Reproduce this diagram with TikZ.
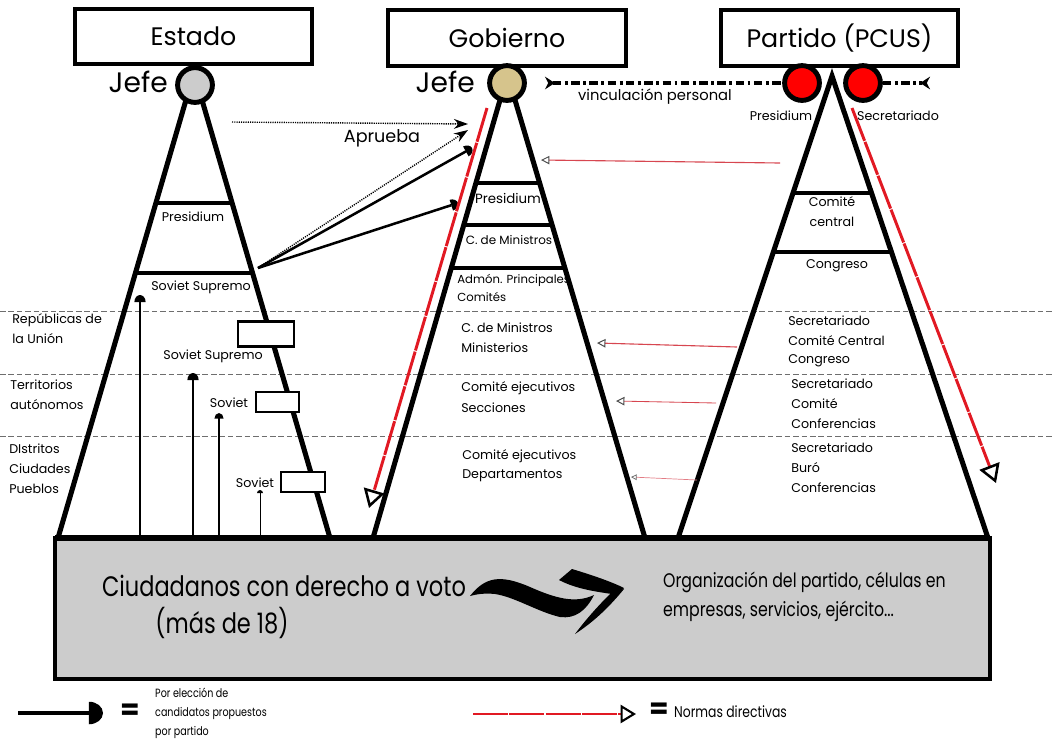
\documentclass[tikz,border=0pt]{standalone}
\usepackage{fontspec}
\setmainfont{Poppins}
\usetikzlibrary{arrows.meta}
\definecolor{basegray}{RGB}{204,204,204}
\definecolor{jefetan}{RGB}{214,196,140}
\definecolor{normared}{RGB}{225,25,35}
\definecolor{thinred}{RGB}{215,70,80}
\definecolor{bandgray}{RGB}{110,110,110}

% half disc tip for the votes
\pgfdeclarearrow{
  name = Dome,
  parameters = {\the\pgfarrowlength,\the\pgfarrowwidth},
  setup code = {
    \pgfarrowssettipend{\pgfarrowlength}
    \pgfarrowssetlineend{0.1pt}
    \pgfarrowssavethe\pgfarrowlength
    \pgfarrowssavethe\pgfarrowwidth
  },
  drawing code = {
    \pgfpathmoveto{\pgfqpoint{0pt}{-.5\pgfarrowwidth}}
    \pgfpatharc{-90}{90}{\pgfarrowlength and .5\pgfarrowwidth}
    \pgfpathclose
    \pgfusepathqfill
  },
  defaults = {length=4pt, width=8pt}
}

\tikzset{
  titlebox/.style={draw, line width=2.8pt, minimum width=5.93cm, minimum height=1.38cm, inner sep=0pt, font=\fontsize{18}{20}\selectfont},
  jefe/.style={circle, draw, line width=3.5pt, minimum size=0.87cm, inner sep=0pt},
  jefetxt/.style={font=\fontsize{20}{22}\selectfont, inner sep=0pt, anchor=east},
  side/.style={line width=3.6pt},
  level/.style={line width=3.4pt},
  lbl/.style={font=\fontsize{9}{11}\selectfont, inner sep=0pt},
  lbll/.style={lbl, anchor=west},
  band/.style={bandgray, line width=0.7pt, dash pattern=on 4pt off 2pt},
  sovbox/.style={draw, fill=white, line width=1.8pt, inner sep=0pt},
  aprueba/.style={line width=1pt, dash pattern=on 0.8pt off 0.8pt, -{Stealth[length=10pt, width=7pt]}},
  voto/.style={line width=1.8pt, -{Dome[length=5pt, width=8pt]}},
  norma/.style={normared, line width=2.1pt, dash pattern=on 25pt off 0.8pt, -{Triangle[open, length=13pt, width=15pt, line width=1.8pt, color=black]}},
  normafina/.style={thinred, line width=0.8pt, -{Triangle[open, length=6pt, width=6pt, line width=0.7pt, color=black!70]}},
  vin/.style={line width=2.2pt, dash pattern=on 6pt off 2.5pt on 2pt off 2.5pt},
  bigtxt/.style={font=\fontsize{20}{24}\selectfont, inner sep=0pt, xscale=0.8},
  midtxt/.style={font=\fontsize{14}{16}\selectfont, inner sep=0pt, anchor=west, xscale=0.8},
  legtxt/.style={font=\fontsize{8.5}{10}\selectfont, inner sep=0pt, anchor=west, xscale=0.8}
}

\begin{document}
\begin{tikzpicture}[x=0.025cm, y=-0.025cm]
    \useasboundingbox (0,0) rectangle (1053,745);

    % Level bands
    \foreach \y in {311,374,436}
        \draw[band] (0,\y) -- (1053,\y);

    % Base of citizens
    \draw[fill=basegray, line width=2.2pt] (55,538) rectangle (990,679);
    \draw[line width=4.5pt] (55,538) -- (990,538);

    % Estado pyramid
    \draw[side] (58,538) -- (186,100);
    \draw[side] (202,100) -- (330,538);
    \draw[level] (155,203) -- (233,203);
    \draw[level] (134,273) -- (254,273);
    \node[lbl] (presE) at (193,217) {Presidium};
    \node[lbl] (supE) at (201,287) {Soviet Supremo};

    % Gobierno pyramid
    \draw[side] (373,538) -- (500,100);
    \draw[side] (515,100) -- (645,538);
    \draw[level] (475,183) -- (540,183);
    \draw[level] (463,225) -- (552,225);
    \draw[level] (450,268) -- (565,268);
    \node[lbl, font=\fontsize{9.5}{11}\selectfont] (presG) at (508,198) {Presidium};
    \node[lbl, font=\fontsize{8.5}{10}\selectfont] (cmG) at (509,240) {C. de Ministros};
    \node[lbll, font=\fontsize{8.3}{10}\selectfont] (admG) at (457,280) {Admón. Principales};
    \node[lbll, font=\fontsize{8.3}{10}\selectfont] (comG) at (457,297) {Comités};

    % Partido pyramid
    \draw[side, miter limit=20] (678,538) -- (832,76) -- (988,538);
    \draw[level] (792,193) -- (873,193);
    \draw[level] (772,252) -- (893,252);
    \node[lbl] (ccP1) at (832,202) {Comité};
    \node[lbl] (ccP2) at (832,222) {central};
    \node[lbl] (conP) at (837,266) {Congreso};

    % Title boxes
    \node[titlebox] (estado) at (193.5,36.5) {Estado};
    \node[titlebox] (gobierno) at (507,38) {Gobierno};
    \node[titlebox] (partido) at (839.5,38) {Partido (PCUS)};

    % Jefes
    \node[jefe, fill=basegray] (jefeE) at (195,85) {};
    \node[jefetxt] at (168,82) {Jefe};
    \node[jefe, fill=jefetan] (jefeG) at (507,83) {};
    \node[jefetxt] at (475,82) {Jefe};

    % Vinculacion personal
    \node[jefe, fill=red] (presP) at (802,83) {};
    \node[jefe, fill=red] (secP) at (863,83) {};
    \coordinate (vinL) at (545,83);
    \coordinate (vinR) at (930,83);
    \draw[vin, {Stealth[reversed, length=7pt, width=9pt]}-] (vinL) -- (presP.west);
    \draw[vin, -{Stealth[reversed, length=7pt, width=9pt]}] (secP.east) -- (vinR);
    \node[lbl, font=\fontsize{10.5}{12}\selectfont] at (655,97) {vinculación personal};
    \node[lbl] at (781,116) {Presidium};
    \node[lbl] at (898,116) {Secretariado};

    % Left levels
    \node[lbll] at (12,320) {Repúblicas de};
    \node[lbll] at (12,339) {la Unión};
    \node[lbll] at (10,385) {Territorios};
    \node[lbll] at (10,405) {autónomos};
    \node[lbll] at (9,449) {DIstritos};
    \node[lbll] at (9,469) {Ciudades};
    \node[lbll] at (9,489) {Pueblos};

    % Soviets
    \node[sovbox, minimum width=1.4cm, minimum height=0.62cm] (sov1) at (266,334) {};
    \node[sovbox, minimum width=1.07cm, minimum height=0.5cm] (sov2) at (277.5,402) {};
    \node[sovbox, minimum width=1.1cm, minimum height=0.5cm] (sov3) at (303,482) {};
    \node[lbl] at (213,356) {Soviet Supremo};
    \node[lbl] at (229,403) {Soviet};
    \node[lbl] at (255,483) {Soviet};

    % Elections from the base
    \draw[voto, line width=1.8pt] (140,538) -- (140,295);
    \draw[voto, line width=1.5pt] (193,538) -- (193,373);
    \draw[voto, line width=1.2pt, -{Dome[length=4pt, width=6.5pt]}] (219,538) -- (219,413);
    \draw[voto, line width=0.7pt, -{Dome[length=2.2pt, width=4.3pt]}] (260,538) -- (260,490);

    % Aprueba
    \coordinate (ss) at (258,268);
    \coordinate (apr0) at (232,122);
    \coordinate (apr1) at (468,124);
    \coordinate (apr2) at (468,130);
    \coordinate (apr3) at (472,148);
    \coordinate (apr4) at (458,203);
    \draw[aprueba] (apr0) -- (apr1);
    \draw[aprueba] (ss) -- (apr2);
    \draw[voto] (ss) -- (apr3);
    \draw[voto] (ss) -- (apr4);
    \node[lbl, font=\fontsize{12.5}{14}\selectfont] at (382,138) {Aprueba};

    % Gobierno levels
    \node[lbll] at (461,328) {C. de Ministros};
    \node[lbll] at (461,348) {Ministerios};
    \node[lbll] at (461,388) {Comité ejecutivos};
    \node[lbll] at (461,408) {Secciones};
    \node[lbll] at (462,456) {Comité ejecutivos};
    \node[lbll] at (462,476) {Departamentos};

    % Partido levels
    \node[lbll] at (788,321) {Secretariado};
    \node[lbll] at (788,341) {Comité Central};
    \node[lbll] at (788,361) {Congreso};
    \node[lbll] at (791,384) {Secretariado};
    \node[lbll] at (791,404) {Comité};
    \node[lbll] at (791,424) {Conferencias};
    \node[lbll] at (791,448) {Secretariado};
    \node[lbll] at (791,468) {Buró};
    \node[lbll] at (791,488) {Conferencias};

    % Normas directivas
    \coordinate (ngA) at (487,108);
    \coordinate (ngB) at (369,508);
    \coordinate (npA) at (852,108);
    \coordinate (npB) at (996,483);
    \draw[norma] (ngA) -- (ngB);
    \draw[norma] (npA) -- (npB);
    \coordinate (nf1a) at (780,163);
    \coordinate (nf1b) at (541,160);
    \coordinate (nf2a) at (737,347);
    \coordinate (nf2b) at (597,343);
    \coordinate (nf3a) at (716,403);
    \coordinate (nf3b) at (616,401);
    \coordinate (nf4a) at (697,480);
    \coordinate (nf4b) at (631,477);
    \draw[normafina] (nf1a) -- (nf1b);
    \draw[normafina] (nf2a) -- (nf2b);
    \draw[normafina, line width=0.6pt] (nf3a) -- (nf3b);
    \draw[normafina, line width=0.5pt, thinred!70, -{Triangle[open, length=4pt, width=4pt, line width=0.5pt, color=black!60]}] (nf4a) -- (nf4b);

    % Citizens
    \node[bigtxt] (ciud) at (284,586) {Ciudadanos con derecho a voto};
    \node[bigtxt] (mas) at (222,623) {(más de 18)};
    \node[midtxt] (org1) at (663,582) {Organización del partido, células en};
    \node[midtxt] (org2) at (663,611) {empresas, servicios, ejército...};
    \fill (470,596) .. controls (485,577) and (500,574) .. (530,587)
        .. controls (555,598) and (575,604) .. (594,595)
        .. controls (586,611) and (575,619) .. (560,617)
        .. controls (538,612) and (515,597) .. (495,594)
        .. controls (485,593) and (477,594) .. (470,596) -- cycle;
    \fill (559,580) -- (572,569) .. controls (595,576) and (612,582) .. (624,588)
        -- (618,595) .. controls (600,592) and (578,590) .. (559,580) -- cycle;
    \fill (624,589) .. controls (610,606) and (595,621) .. (575,634)
        .. controls (587,618) and (599,605) .. (610,594) -- cycle;

    % Legend
    \coordinate (legA) at (18,713);
    \coordinate (legB) at (103,713);
    \draw[line width=2.8pt, -{Dome[length=10pt, width=16pt]}] (legA) -- (legB);
    \node[font=\fontsize{20}{22}\selectfont\bfseries, inner sep=0pt] at (130,712) {=};
    \node[legtxt] at (155,693) {Por elección de};
    \node[legtxt] at (155,713) {candidatos propuestos};
    \node[legtxt] at (155,732) {por partido};
    \coordinate (legC) at (473,714);
    \coordinate (legD) at (636,714);
    \draw[norma, -{Triangle[open, length=11pt, width=13pt, line width=1.5pt, color=black]}] (legC) -- (legD);
    \node[font=\fontsize{20}{22}\selectfont\bfseries, inner sep=0pt] at (659,711) {=};
    \node[legtxt, font=\fontsize{11}{13}\selectfont] at (674,712) {Normas directivas};
\end{tikzpicture}
\end{document}
